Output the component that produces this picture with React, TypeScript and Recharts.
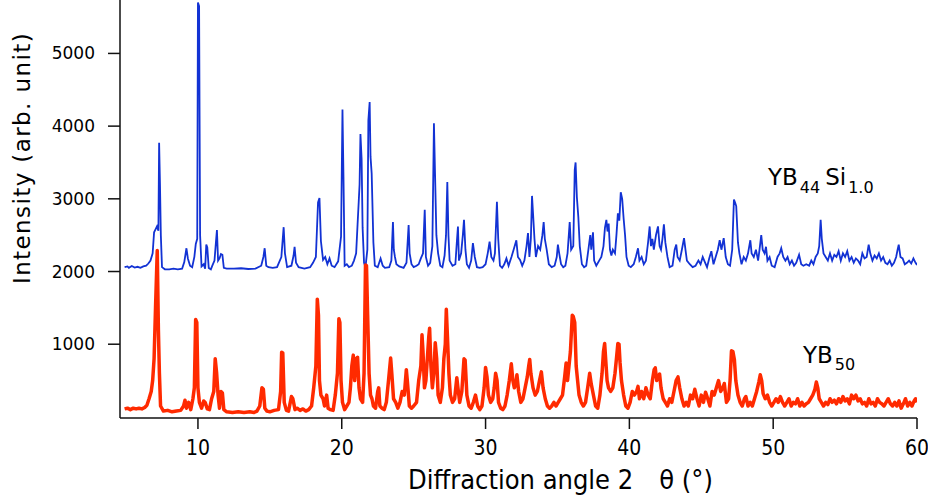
import { LineChart, Line, XAxis, YAxis, Label } from 'recharts';

// [2θ (deg), intensity]
const yb44Si10: [number, number][] = [
  [4.9, 2060], [5.1, 2070], [5.2, 2050], [5.4, 2075], [5.6, 2055], [5.8, 2065], [6.0, 2050], [6.2, 2070],
  [6.4, 2080], [6.55, 2110], [6.7, 2150], [6.85, 2250], [6.95, 2540], [7.05, 2580], [7.15, 2620], [7.25, 2560],
  [7.3, 3770], [7.36, 3200], [7.42, 2500], [7.5, 2060], [7.7, 2030], [8.0, 2030], [8.3, 2040], [8.6, 2030],
  [8.9, 2040], [9.05, 2130], [9.2, 2320], [9.3, 2180], [9.45, 2080], [9.6, 2060], [9.75, 2200], [9.85, 2380],
  [9.95, 2450], [10.0, 5700], [10.08, 5650], [10.15, 2500], [10.25, 2070], [10.4, 2100], [10.5, 2040], [10.58, 2370],
  [10.65, 2330], [10.75, 2050], [10.9, 2030], [11.0, 2080], [11.15, 2150], [11.25, 2400], [11.32, 2570], [11.4, 2150],
  [11.5, 2180], [11.6, 2240], [11.7, 2230], [11.8, 2050], [12.0, 2040], [12.5, 2040], [13.0, 2045], [13.5, 2035],
  [14.0, 2040], [14.4, 2080], [14.55, 2200], [14.64, 2320], [14.75, 2080], [14.9, 2060], [15.2, 2050], [15.5, 2060],
  [15.8, 2200], [15.96, 2610], [16.05, 2250], [16.2, 2060], [16.5, 2080], [16.65, 2220], [16.72, 2340], [16.82, 2120],
  [17.0, 2060], [17.4, 2040], [17.8, 2060], [18.0, 2120], [18.2, 2200], [18.35, 2950], [18.45, 3010], [18.55, 2420],
  [18.7, 2160], [18.85, 2200], [19.0, 2100], [19.15, 2180], [19.3, 2080], [19.5, 2060], [19.75, 2140], [19.95, 2480],
  [20.05, 4230], [20.12, 3300], [20.2, 2080], [20.35, 2100], [20.5, 2060], [20.7, 2080], [20.85, 2150], [21.0, 2250],
  [21.1, 2650], [21.18, 2960], [21.24, 3200], [21.3, 3890], [21.38, 3550], [21.45, 2600], [21.55, 2120], [21.65, 2060],
  [21.78, 2300], [21.85, 4080], [21.94, 4330], [22.0, 3580], [22.08, 3350], [22.2, 2400], [22.3, 2080], [22.5, 2060],
  [22.7, 2180], [22.85, 2080], [23.0, 2050], [23.3, 2060], [23.45, 2150], [23.56, 2680], [23.62, 2300], [23.7, 2200],
  [23.8, 2100], [24.0, 2070], [24.3, 2050], [24.5, 2120], [24.65, 2640], [24.72, 2250], [24.85, 2100], [25.0, 2060],
  [25.2, 2080], [25.35, 2100], [25.5, 2180], [25.65, 2250], [25.77, 2850], [25.85, 2200], [26.0, 2080], [26.15, 2120],
  [26.3, 2350], [26.41, 4040], [26.48, 3400], [26.58, 2500], [26.7, 2250], [26.85, 2080], [27.0, 2060], [27.15, 2220],
  [27.25, 2500], [27.34, 3230], [27.42, 2500], [27.5, 2150], [27.7, 2080], [27.9, 2100], [28.0, 2400], [28.08, 2620],
  [28.15, 2150], [28.3, 2250], [28.42, 2500], [28.5, 2710], [28.6, 2300], [28.7, 2100], [28.85, 2050], [29.0, 2150],
  [29.12, 2390], [29.25, 2200], [29.4, 2060], [29.6, 2050], [29.8, 2060], [30.0, 2100], [30.15, 2250], [30.28, 2410],
  [30.4, 2200], [30.55, 2150], [30.65, 2250], [30.79, 2960], [30.88, 2450], [31.0, 2080], [31.15, 2050], [31.3, 2100],
  [31.45, 2180], [31.6, 2080], [31.8, 2200], [31.95, 2300], [32.14, 2430], [32.25, 2200], [32.4, 2160], [32.55, 2080],
  [32.7, 2150], [32.85, 2350], [32.95, 2530], [33.05, 2200], [33.15, 2450], [33.23, 3040], [33.3, 2800], [33.4, 2450],
  [33.5, 2200], [33.65, 2350], [33.8, 2300], [33.95, 2500], [34.04, 2680], [34.12, 2450], [34.25, 2300], [34.4, 2100],
  [34.6, 2060], [34.8, 2080], [34.95, 2200], [35.03, 2370], [35.12, 2250], [35.25, 2100], [35.4, 2060], [35.55, 2080],
  [35.7, 2250], [35.85, 2680], [35.95, 2300], [36.1, 2350], [36.2, 3400], [36.26, 3500], [36.35, 3020], [36.45, 2750],
  [36.55, 2350], [36.7, 2100], [36.85, 2060], [37.0, 2080], [37.15, 2300], [37.28, 2500], [37.35, 2300], [37.47, 2540],
  [37.55, 2150], [37.7, 2080], [37.9, 2150], [38.05, 2200], [38.2, 2350], [38.3, 2600], [38.4, 2710], [38.48, 2550],
  [38.56, 2660], [38.65, 2300], [38.75, 2220], [38.85, 2300], [39.0, 2250], [39.1, 2500], [39.2, 2800], [39.3, 2700],
  [39.4, 3090], [39.5, 3000], [39.6, 2730], [39.7, 2500], [39.8, 2200], [39.95, 2080], [40.1, 2060], [40.3, 2100],
  [40.45, 2200], [40.6, 2320], [40.7, 2150], [40.85, 2200], [41.0, 2100], [41.15, 2150], [41.3, 2400], [41.41, 2620],
  [41.5, 2350], [41.6, 2450], [41.7, 2300], [41.85, 2500], [41.99, 2620], [42.1, 2350], [42.2, 2300], [42.3, 2450],
  [42.4, 2650], [42.5, 2400], [42.65, 2200], [42.8, 2060], [43.0, 2080], [43.15, 2300], [43.26, 2370], [43.35, 2200],
  [43.5, 2150], [43.65, 2300], [43.8, 2460], [43.9, 2300], [44.0, 2150], [44.2, 2100], [44.4, 2060], [44.6, 2080],
  [44.8, 2150], [44.95, 2100], [45.1, 2200], [45.25, 2130], [45.4, 2060], [45.55, 2180], [45.7, 2280], [45.85, 2100],
  [46.0, 2200], [46.15, 2300], [46.28, 2430], [46.4, 2300], [46.56, 2460], [46.7, 2200], [46.85, 2100], [47.0, 2080],
  [47.15, 2300], [47.27, 2990], [47.35, 2950], [47.43, 2900], [47.55, 2400], [47.65, 2250], [47.8, 2100], [47.95, 2200],
  [48.1, 2150], [48.25, 2250], [48.41, 2430], [48.5, 2250], [48.65, 2200], [48.8, 2300], [48.95, 2150], [49.05, 2300],
  [49.17, 2500], [49.27, 2300], [49.4, 2250], [49.5, 2340], [49.6, 2150], [49.75, 2200], [49.9, 2080], [50.1, 2060],
  [50.3, 2200], [50.45, 2250], [50.56, 2320], [50.7, 2200], [50.85, 2150], [51.0, 2200], [51.15, 2100], [51.3, 2150],
  [51.45, 2080], [51.6, 2120], [51.8, 2230], [51.95, 2100], [52.1, 2080], [52.3, 2100], [52.5, 2080], [52.65, 2150],
  [52.8, 2100], [52.95, 2200], [53.1, 2250], [53.2, 2350], [53.3, 2710], [53.38, 2450], [53.5, 2250], [53.65, 2200],
  [53.8, 2150], [53.95, 2250], [54.1, 2150], [54.25, 2230], [54.4, 2200], [54.55, 2280], [54.7, 2150], [54.85, 2250],
  [55.0, 2200], [55.15, 2280], [55.3, 2150], [55.45, 2200], [55.6, 2120], [55.75, 2180], [55.9, 2150], [56.05, 2100],
  [56.2, 2250], [56.35, 2180], [56.5, 2200], [56.64, 2370], [56.75, 2250], [56.9, 2150], [57.05, 2220], [57.2, 2180],
  [57.35, 2250], [57.5, 2150], [57.65, 2200], [57.8, 2120], [57.95, 2100], [58.1, 2150], [58.25, 2080], [58.4, 2120],
  [58.55, 2200], [58.65, 2300], [58.73, 2370], [58.85, 2200], [59.0, 2180], [59.15, 2100], [59.3, 2120], [59.45, 2150],
  [59.6, 2110], [59.75, 2180], [59.9, 2120], [60.0, 2090],
];

const yb50: [number, number][] = [
  [4.9, 110], [5.1, 120], [5.3, 100], [5.5, 120], [5.7, 110], [5.9, 120], [6.1, 110], [6.3, 130],
  [6.45, 160], [6.6, 250], [6.75, 350], [6.85, 500], [6.95, 800], [7.05, 1500], [7.17, 2290], [7.25, 1200],
  [7.32, 600], [7.4, 150], [7.6, 80], [7.9, 90], [8.2, 70], [8.5, 80], [8.8, 90], [9.0, 150],
  [9.1, 230], [9.2, 120], [9.35, 200], [9.5, 100], [9.65, 250], [9.75, 400], [9.84, 1340], [9.92, 1300],
  [10.0, 400], [10.1, 200], [10.25, 120], [10.4, 220], [10.5, 200], [10.65, 110], [10.8, 100], [10.95, 250],
  [11.1, 350], [11.2, 800], [11.3, 600], [11.4, 300], [11.5, 120], [11.6, 350], [11.7, 330], [11.8, 100],
  [12.0, 70], [12.4, 60], [12.8, 70], [13.2, 60], [13.6, 70], [13.9, 60], [14.1, 80], [14.3, 150],
  [14.45, 400], [14.55, 380], [14.65, 120], [14.8, 80], [15.0, 70], [15.3, 90], [15.6, 100], [15.75, 350],
  [15.82, 890], [15.9, 880], [16.0, 200], [16.15, 90], [16.3, 80], [16.5, 280], [16.6, 250], [16.75, 100],
  [16.9, 120], [17.1, 90], [17.3, 110], [17.5, 80], [17.7, 100], [17.9, 150], [18.05, 400], [18.2, 700],
  [18.3, 1620], [18.38, 1400], [18.45, 500], [18.55, 300], [18.7, 250], [18.8, 150], [18.95, 300], [19.05, 120],
  [19.2, 100], [19.4, 90], [19.55, 300], [19.7, 600], [19.8, 1350], [19.87, 1300], [19.95, 500], [20.05, 200],
  [20.2, 100], [20.35, 150], [20.5, 200], [20.6, 400], [20.7, 700], [20.8, 850], [20.9, 500], [21.0, 800],
  [21.1, 820], [21.2, 400], [21.3, 250], [21.45, 200], [21.55, 600], [21.65, 2090], [21.72, 2080], [21.8, 1400],
  [21.9, 600], [22.0, 300], [22.1, 250], [22.2, 150], [22.35, 120], [22.5, 350], [22.57, 400], [22.65, 150],
  [22.8, 120], [22.95, 100], [23.1, 200], [23.25, 500], [23.4, 810], [23.48, 600], [23.6, 250], [23.75, 200],
  [23.9, 120], [24.05, 200], [24.2, 350], [24.35, 300], [24.49, 650], [24.56, 500], [24.7, 150], [24.85, 120],
  [25.0, 150], [25.2, 200], [25.35, 500], [25.5, 700], [25.58, 1130], [25.65, 900], [25.75, 400], [25.85, 500],
  [25.95, 800], [26.05, 1100], [26.11, 1220], [26.2, 700], [26.3, 400], [26.4, 600], [26.5, 1020], [26.6, 800],
  [26.7, 300], [26.85, 200], [27.0, 400], [27.1, 800], [27.2, 1000], [27.27, 1480], [27.35, 1100], [27.45, 600],
  [27.55, 300], [27.7, 200], [27.85, 250], [28.0, 540], [28.08, 400], [28.2, 200], [28.35, 350], [28.5, 800],
  [28.58, 780], [28.7, 300], [28.85, 150], [29.0, 120], [29.15, 200], [29.3, 300], [29.45, 150], [29.6, 100],
  [29.75, 150], [29.9, 400], [30.0, 680], [30.1, 550], [30.2, 300], [30.35, 200], [30.5, 250], [30.6, 400],
  [30.7, 600], [30.8, 500], [30.9, 200], [31.05, 120], [31.2, 100], [31.35, 150], [31.5, 300], [31.65, 500],
  [31.79, 730], [31.9, 500], [32.0, 400], [32.1, 450], [32.18, 580], [32.3, 350], [32.45, 200], [32.6, 250],
  [32.75, 400], [32.9, 550], [33.0, 700], [33.07, 790], [33.15, 600], [33.3, 400], [33.45, 300], [33.6, 350],
  [33.75, 500], [33.88, 620], [34.0, 400], [34.15, 250], [34.3, 150], [34.45, 120], [34.6, 150], [34.75, 200],
  [34.9, 150], [35.05, 200], [35.2, 250], [35.35, 300], [35.5, 550], [35.6, 740], [35.7, 500], [35.8, 700],
  [35.9, 900], [36.03, 1400], [36.1, 1380], [36.2, 1300], [36.3, 700], [36.4, 500], [36.5, 300], [36.65, 200],
  [36.8, 150], [36.95, 200], [37.1, 400], [37.24, 600], [37.35, 450], [37.5, 300], [37.65, 150], [37.8, 120],
  [37.95, 300], [38.1, 600], [38.2, 900], [38.28, 1010], [38.35, 800], [38.45, 500], [38.55, 400], [38.7, 350],
  [38.85, 400], [39.0, 600], [39.1, 800], [39.2, 1010], [39.28, 1000], [39.35, 750], [39.45, 500], [39.6, 300],
  [39.75, 150], [39.9, 120], [40.05, 200], [40.2, 350], [40.35, 300], [40.5, 350], [40.6, 420], [40.7, 250],
  [40.85, 350], [41.0, 250], [41.15, 400], [41.3, 300], [41.45, 250], [41.6, 500], [41.72, 650], [41.8, 675],
  [41.9, 500], [42.0, 550], [42.1, 590], [42.2, 400], [42.35, 250], [42.5, 200], [42.65, 150], [42.8, 250],
  [42.95, 200], [43.1, 350], [43.25, 500], [43.38, 550], [43.5, 400], [43.65, 250], [43.8, 150], [43.95, 200],
  [44.1, 150], [44.25, 300], [44.4, 250], [44.55, 380], [44.7, 250], [44.85, 150], [45.0, 300], [45.15, 200],
  [45.3, 340], [45.45, 250], [45.6, 150], [45.75, 350], [45.9, 300], [46.05, 400], [46.2, 500], [46.35, 350],
  [46.5, 400], [46.6, 460], [46.75, 200], [46.9, 250], [47.0, 500], [47.1, 910], [47.2, 900], [47.3, 790],
  [47.4, 500], [47.55, 300], [47.7, 200], [47.85, 150], [48.0, 250], [48.1, 280], [48.25, 150], [48.4, 200],
  [48.55, 150], [48.7, 250], [48.85, 350], [49.0, 480], [49.1, 580], [49.2, 500], [49.3, 320], [49.45, 250],
  [49.6, 300], [49.75, 200], [49.9, 150], [50.05, 200], [50.2, 250], [50.35, 200], [50.5, 280], [50.65, 200],
  [50.8, 150], [50.95, 200], [51.1, 250], [51.25, 150], [51.4, 200], [51.55, 180], [51.7, 250], [51.85, 150],
  [52.0, 200], [52.15, 150], [52.3, 180], [52.45, 200], [52.6, 250], [52.75, 300], [52.9, 380], [53.0, 480],
  [53.1, 400], [53.2, 250], [53.35, 200], [53.5, 150], [53.65, 200], [53.8, 170], [53.95, 250], [54.1, 200],
  [54.25, 230], [54.4, 180], [54.55, 250], [54.7, 200], [54.85, 280], [55.0, 220], [55.15, 250], [55.3, 180],
  [55.45, 300], [55.6, 250], [55.75, 300], [55.9, 220], [56.05, 250], [56.2, 180], [56.35, 200], [56.5, 150],
  [56.65, 250], [56.8, 180], [56.95, 200], [57.1, 150], [57.25, 250], [57.4, 200], [57.55, 180], [57.7, 150],
  [57.85, 200], [58.0, 250], [58.15, 180], [58.3, 150], [58.45, 200], [58.6, 150], [58.75, 220], [58.9, 120],
  [59.05, 180], [59.2, 250], [59.35, 150], [59.5, 200], [59.65, 150], [59.8, 220], [59.9, 250], [60.0, 200],
];

const angleTicks = [10, 20, 30, 40, 50, 60];
const intensityTicks = [1000, 2000, 3000, 4000, 5000];

const toRows = (pts: [number, number][]) => pts.map(([angle, intensity]) => ({ angle, intensity }));

const narrow = "'Liberation Sans Narrow', 'DejaVu Sans Condensed', 'Liberation Sans', sans-serif";
const sans = "'DejaVu Sans', 'Liberation Sans', sans-serif";

export default function App() {
  const blueRows = toRows(yb44Si10);
  const redRows = toRows(yb50);

  return (
    <div style={{ position: 'absolute', left: 0, top: 0, width: 928, height: 498, background: '#fff' }}>
      <LineChart width={928} height={498} margin={{ top: 0, right: 11, left: 0, bottom: 0 }}>
        <XAxis
          dataKey="angle"
          type="number"
          domain={[4.58, 60]}
          ticks={angleTicks}
          allowDataOverflow
          height={80}
          tickSize={11}
          tickMargin={11}
          axisLine={{ stroke: '#111', strokeWidth: 1.5 }}
          tickLine={{ stroke: '#111', strokeWidth: 1.5 }}
          tick={{ fontSize: 21, fill: '#000', fontFamily: narrow }}
        >
          <Label
            content={() => (
              <text x={408} y={489} fontSize={27} fontFamily={narrow} fill="#000">
                Diffraction angle 2
                <tspan dx={26}>θ (°)</tspan>
              </text>
            )}
          />
        </XAxis>
        <YAxis
          type="number"
          domain={[-15, 5735]}
          ticks={intensityTicks}
          allowDataOverflow
          width={120}
          tickSize={12}
          tickMargin={13}
          axisLine={{ stroke: '#111', strokeWidth: 1.5 }}
          tickLine={{ stroke: '#111', strokeWidth: 1.5 }}
          tick={{ fontSize: 17, fill: '#000', fontFamily: sans }}
        >
          <Label
            content={() => (
              <text
                x={22}
                y={158}
                transform="rotate(-90 22 158)"
                textAnchor="middle"
                dominantBaseline="central"
                fontSize={23}
                letterSpacing={1.4}
                fontFamily={sans}
                fill="#000"
              >
                Intensity (arb. unit)
              </text>
            )}
          />
        </YAxis>
        <Line
          data={blueRows}
          dataKey="intensity"
          type="linear"
          stroke="#1232d4"
          strokeWidth={1.8}
          dot={false}
          isAnimationActive={false}
        />
        <Line
          data={redRows}
          dataKey="intensity"
          type="linear"
          stroke="#ff2a00"
          strokeWidth={3.5}
          strokeLinejoin="round"
          dot={false}
          isAnimationActive={false}
        />
      </LineChart>
      <svg
        width={928}
        height={498}
        style={{ position: 'absolute', left: 0, top: 0, pointerEvents: 'none' }}
      >
        <text x={768} y={185} fontSize={23} fontFamily={sans} fill="#000">
          YB
          <tspan fontSize={16} dx={2} dy={8}>44</tspan>
          <tspan dx={5} dy={-8}>Si</tspan>
          <tspan fontSize={16} dx={2} dy={8}>1.0</tspan>
        </text>
        <text x={803} y={363} fontSize={23} fontFamily={sans} fill="#000">
          YB
          <tspan fontSize={16} dx={2} dy={7}>50</tspan>
        </text>
      </svg>
    </div>
  );
}
